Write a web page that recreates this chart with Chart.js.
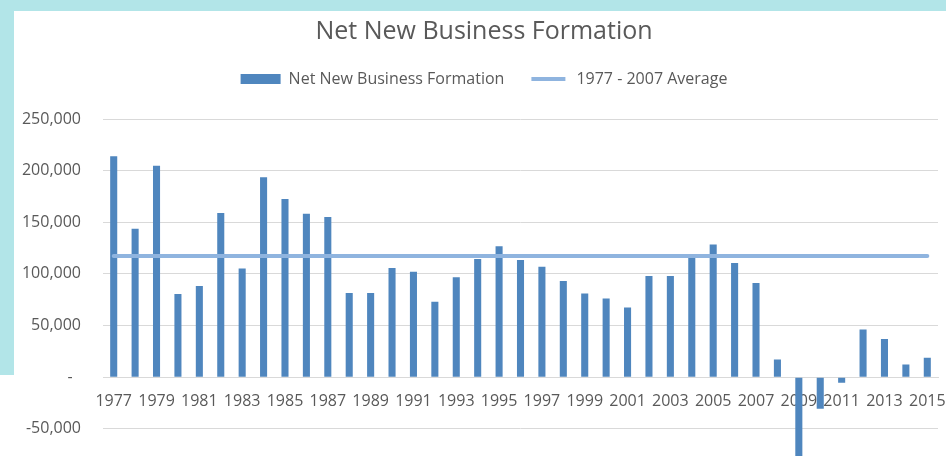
<!DOCTYPE html>
<html>
<head>
<meta charset="utf-8">
<script src="https://cdn.jsdelivr.net/npm/chart.js@4/dist/chart.umd.min.js"></script>
<style>
  html, body { margin: 0; padding: 0; background: #fff; overflow: hidden; width: 946px; height: 456px; }
  #wrap { position: absolute; left: 0; top: 0; width: 976px; height: 512px; }
  .band { position: absolute; background: #b2e5e8; z-index: 2; }
  #bandTop { left: 0; top: 0; width: 946px; height: 11px; }
  #bandLeft { left: 0; top: 0; width: 14px; height: 375px; }
</style>
</head>
<body>
<div id="bandTop" class="band"></div>
<div id="bandLeft" class="band"></div>
<div id="wrap"><canvas id="chart"></canvas></div>
<script>
// years on the category axis
const years = [
  "1977", "1978", "1979", "1980", "1981", "1982", "1983", "1984", "1985", "1986",
  "1987", "1988", "1989", "1990", "1991", "1992", "1993", "1994", "1995", "1996",
  "1997", "1998", "1999", "2000", "2001", "2002", "2003", "2004", "2005", "2006",
  "2007", "2008", "2009", "2010", "2011", "2012", "2013", "2014", "2015"
];

// net new business formation (births - deaths)
const netNew = [
  214000, 143700, 204700, 80400, 88200, 159000, 105100, 193600, 172500, 158300,
  155000, 81400, 81400, 105700, 102100, 73000, 96700, 114500, 126800, 113500,
  107000, 93100, 81100, 76200, 67500, 98000, 98000, 115500, 128400, 110600,
  91100, 17200, -95000, -30700, -5500, 46100, 37000, 12300, 18800
];

// 1977 - 2007 average, drawn flat across all years
const average = [
  117400, 117400, 117400, 117400, 117400, 117400, 117400, 117400, 117400, 117400,
  117400, 117400, 117400, 117400, 117400, 117400, 117400, 117400, 117400, 117400,
  117400, 117400, 117400, 117400, 117400, 117400, 117400, 117400, 117400, 117400,
  117400, 117400, 117400, 117400, 117400, 117400, 117400, 117400, 117400
];

// y axis range
const yMin = -100000;
const yMax = 250000;
const yStep = 50000;

const barColor = "#4f86be";
const lineColor = "#8fb4df";
const textColor = "#595959";
const gridColor = "#d9d9d9";
const fontFamily = "'Open Sans', sans-serif";

// push the plot a bit further below the legend
const legendGap = {
  id: "legendGap",
  beforeInit(chart) {
    const fit = chart.legend.fit;
    chart.legend.fit = function () {
      fit.bind(chart.legend)();
      this.height += 22;
    };
  }
};

const ctx = document.getElementById("chart").getContext("2d");
const chart = new Chart(ctx, {
  data: {
    labels: years,
    datasets: [
      {
        type: "bar",
        label: "Net New Business Formation",
        data: netNew,
        backgroundColor: barColor,
        borderWidth: 0,
        barPercentage: 0.33,
        categoryPercentage: 1,
        order: 1
      },
      {
        type: "line",
        label: "1977 - 2007 Average",
        data: average,
        borderColor: lineColor,
        backgroundColor: lineColor,
        borderWidth: 4,
        borderCapStyle: "round",
        pointRadius: 0,
        fill: false,
        order: 0
      }
    ]
  },
  options: {
    responsive: true,
    maintainAspectRatio: false,
    animation: false,
    layout: {
      padding: { top: 11, right: 8, left: 0, bottom: 0 }
    },
    plugins: {
      title: {
        display: true,
        text: "Net New Business Formation",
        color: textColor,
        font: { family: fontFamily, size: 25, weight: "normal" },
        padding: { top: 6, bottom: 0 }
      },
      legend: {
        display: true,
        labels: {
          color: textColor,
          font: { family: fontFamily, size: 16 },
          boxWidth: 40,
          boxHeight: 10,
          padding: 24,
          sort: (a, b) => a.datasetIndex - b.datasetIndex,
          generateLabels: (c) => {
            const items = Chart.defaults.plugins.legend.labels.generateLabels(c);
            items.forEach((it) => {
              if (it.datasetIndex === 1) {
                it.fillStyle = lineColor;
                it.strokeStyle = "#ffffff";
                it.lineWidth = 6;
              } else {
                it.lineWidth = 0;
              }
            });
            return items;
          }
        }
      },
      tooltip: { enabled: false }
    },
    scales: {
      x: {
        position: { y: 0 },
        afterFit: (s) => { s.paddingLeft = 0; s.paddingRight = 0; },
        grid: { display: false, drawTicks: false },
        border: { display: true, color: gridColor },
        ticks: {
          color: textColor,
          font: { family: fontFamily, size: 16 },
          autoSkip: false,
          maxRotation: 0,
          padding: 15,
          callback: (v, i) => (i % 2 === 0 ? years[i] : "")
        }
      },
      y: {
        min: yMin,
        max: yMax,
        afterFit: (s) => { s.width = 103; },
        grid: { color: gridColor, drawTicks: false },
        border: { display: false },
        ticks: {
          stepSize: yStep,
          color: textColor,
          font: { family: fontFamily, size: 16 },
          padding: 22,
          callback: (v) => (v === 0 ? "-  " : v.toLocaleString("en-US"))
        }
      },
      // empty right-hand margin, keeps title and legend centred like the original
      yRight: {
        type: "linear",
        position: "right",
        min: yMin,
        max: yMax,
        afterFit: (s) => { s.width = 30; },
        grid: { display: false, drawTicks: false },
        border: { display: false },
        ticks: { display: false }
      }
    }
  },
  plugins: [legendGap]
});
</script>
</body>
</html>
